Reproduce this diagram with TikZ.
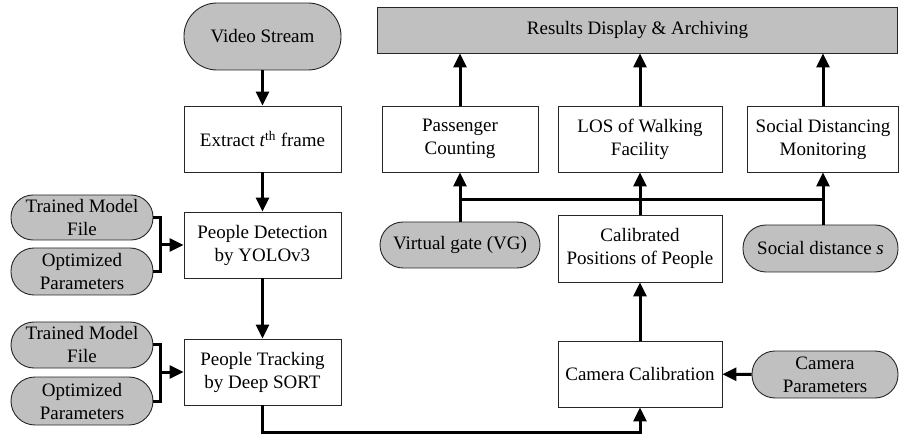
\documentclass[tikz,border=0pt]{standalone}
\usepackage{fontspec}
\setmainfont{Liberation Serif}
\usetikzlibrary{arrows.meta}
\definecolor{boxgray}{RGB}{192,192,192}
\begin{document}
\begin{tikzpicture}[x=1pt,y=-1pt,
  every node/.style={font=\fontsize{19}{23}\selectfont, align=center, inner sep=0pt},
  procbox/.style={draw=black!85, line width=0.9pt, fill=white, rectangle},
  term/.style={draw=black!85, line width=0.9pt, fill=boxgray, rectangle, rounded corners=#1},
  term/.default=23pt,
  flow/.style={line width=3pt, -{Triangle[width=13pt,length=14pt]}},
  plain/.style={line width=3pt}
]
\useasboundingbox (0,0) rectangle (899,435);

% left column
\node[term=33pt, minimum width=157pt, minimum height=67pt] (vs) at (262.5,36.5) {Video Stream};
\node[procbox, minimum width=157pt, minimum height=66pt] (ext) at (262.5,139) {Extract \textit{t}\textsuperscript{th} frame};
\node[procbox, minimum width=157pt, minimum height=66pt] (det) at (262.5,245) {People Detection\\by YOLOv3};
\node[procbox, minimum width=157pt, minimum height=66pt] (trk) at (262.5,372) {People Tracking\\by Deep SORT};

\node[term=22pt, minimum width=142pt, minimum height=45pt] (tm1) at (82,217.5) {Trained Model\\File};
\node[term=23pt, minimum width=142pt, minimum height=47pt] (op1) at (82,271.5) {Optimized\\Parameters};
\node[term=23pt, minimum width=142pt, minimum height=46pt] (tm2) at (82,345) {Trained Model\\File};
\node[term=24pt, minimum width=142pt, minimum height=48pt] (op2) at (82,401) {Optimized\\Parameters};

% right part
\node[rectangle, draw=black!85, line width=0.9pt, fill=boxgray, minimum width=520pt, minimum height=46pt] (res) at (637.5,30) {Results Display \& Archiving};
\node[procbox, minimum width=156pt, minimum height=66pt] (pc) at (460,139) {Passenger\\Counting};
\node[procbox, minimum width=164pt, minimum height=66pt] (los) at (640,139) {LOS of Walking\\Facility};
\node[procbox, minimum width=151pt, minimum height=66pt] (sdm) at (823,139) {Social Distancing\\Monitoring};

\node[term=23pt, minimum width=160pt, minimum height=46pt] (vg) at (460,245) {Virtual gate (VG)};
\node[procbox, minimum width=164pt, minimum height=67pt] (cal) at (640,248.5) {Calibrated\\Positions of People};
\node[term=23pt, minimum width=155pt, minimum height=47pt] (sds) at (820.5,248.5) {Social distance \textit{s}};

\node[procbox, minimum width=164pt, minimum height=66pt] (cc) at (640,374) {Camera Calibration};
\node[term=23pt, minimum width=146pt, minimum height=47pt] (cp) at (825,374.5) {Camera\\Parameters};

% coordinates
\coordinate (j1) at (160,245);
\coordinate (j2) at (160,372);
\coordinate (bot) at (262.5,432);
\coordinate (hl) at (460,200);
\coordinate (hr) at (823,200);

% left connectors
\draw[flow] (vs) -- (ext);
\draw[flow] (ext) -- (det);
\draw[flow] (det) -- (trk);
\draw[plain, line cap=butt] (tm1.east) -| (j1) |- (op1.east);
\draw[flow] (j1) -- (det.west);
\draw[plain] (tm2.east) -| (j2) |- (op2.east);
\draw[flow] (j2) -- (trk.west);

% bottom route
\draw[flow] (trk.south) -- (bot) -| (cc.south);
\draw[flow] (cc) -- (cal);
\draw[flow] (cp) -- (cc);

% middle
\draw[flow] (cal.north) -- (los.south);
\draw[plain] (hl) -- (hr);
\draw[flow] (vg.north) -- (pc.south);
\draw[flow] (sds.north -| sdm.south) -- (sdm.south);

% top
\draw[flow] (pc.north) -- (pc.north |- res.south);
\draw[flow] (los.north) -- (los.north |- res.south);
\draw[flow] (sdm.north) -- (sdm.north |- res.south);
\end{tikzpicture}
\end{document}
